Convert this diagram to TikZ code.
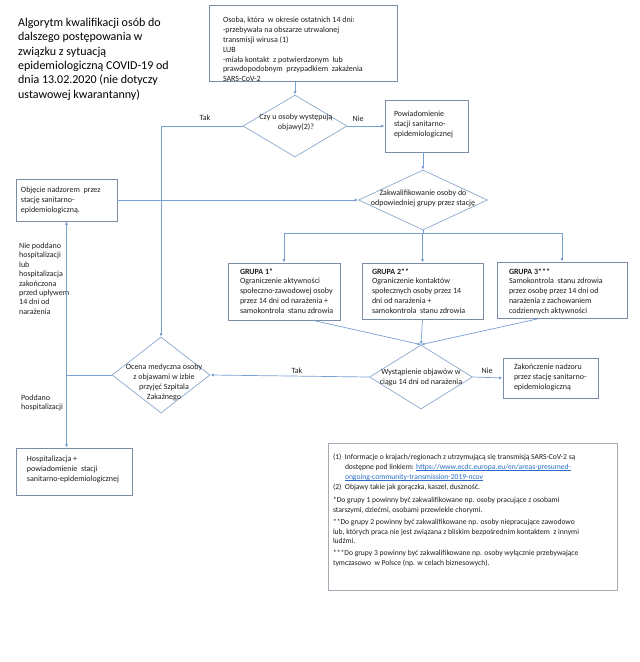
\documentclass[tikz,border=0pt]{standalone}
\usepackage{fontspec}
\setmainfont{Carlito}
\usetikzlibrary{shapes.geometric,arrows.meta,calc}
\setlength{\parindent}{0pt}
\definecolor{boxc}{RGB}{125,140,165}
\definecolor{linec}{RGB}{120,160,210}
\definecolor{diac}{RGB}{140,168,205}
\definecolor{notec}{RGB}{165,172,182}
\definecolor{txt}{RGB}{30,30,30}
\definecolor{linkc}{RGB}{40,110,200}
\newcommand\fsm{\fontsize{8}{9.9}\selectfont}
\newcommand\bxt[4]{\smash{\makebox[#1][l]{\hspace*{#2}\raisebox{#3}{\begin{tabular}{@{}l@{}}#4\end{tabular}}}}}
\newcommand\dmt[3]{\smash{\makebox[0pt]{\hspace*{#1}\raisebox{#2}{\begin{tabular}{@{}c@{}}#3\end{tabular}}}}}
\newcommand\lnk[1]{\textcolor{linkc}{\setbox0\hbox{#1}\rlap{\rule[-1.3pt]{\wd0}{0.45pt}}\box0}}
\begin{document}
\begin{tikzpicture}[x=1pt,y=-1pt, font=\fsm, text=txt,
  box/.style={draw=boxc, line width=0.7pt, fill=white, rectangle, inner sep=0pt},
  notebox/.style={draw=notec, line width=0.7pt, fill=white, rectangle, inner sep=0pt},
  dia/.style={draw=diac, line width=0.7pt, fill=white, diamond, inner sep=0pt},
  arr/.style={draw=linec, line width=0.7pt, -{Latex[length=3.5pt,width=3pt]}},
  ln/.style={draw=linec, line width=0.7pt},
  lbl/.style={inner sep=0pt, font=\fsm}]

\fill[white] (0,0) rectangle (640,662);
\useasboundingbox (0,0) rectangle (640,662);

% title
\node[anchor=west, inner sep=0pt, font=\fontsize{12}{14.4}\selectfont, text=black] (title) at (18,59.5)
 {\begin{tabular}{@{}l@{}}Algorytm kwalifikacji osób do\\ dalszego postępowania w\\ związku z sytuacją\\ epidemiologiczną COVID-19 od\\ dnia 13.02.2020 (nie dotyczy\\ ustawowej kwarantanny)\end{tabular}};

% boxes
\node[box, minimum width=188pt, minimum height=76pt] (osoba) at (303,43)
 {\bxt{188pt}{14pt}{-9.2pt}{Osoba, która\ \ w okresie ostatnich 14 dni:\\ -przebywała na obszarze utrwalonej\\ transmisji wirusa (1)\\ LUB\\ -miała kontakt\ \ z potwierdzonym\ \ lub\\ prawdopodobnym\ \ przypadkiem\ \ zakażenia\\ SARS-CoV-2}};

\node[box, minimum width=83pt, minimum height=52pt] (pow) at (426.5,126)
 {\bxt{83pt}{9pt}{-0.9pt}{Powiadomienie\\ stacji sanitarno-\\ epidemiologicznej}};

\node[box, minimum width=101pt, minimum height=42pt] (objecie) at (66.5,200)
 {\bxt{101pt}{5pt}{-2.9pt}{Objęcie nadzorem\ \ przez\\ stację sanitarno-\\ epidemiologiczną.}};

\node[box, minimum width=116pt, minimum height=47pt] (hosp) at (74,471.5)
 {\bxt{116pt}{11pt}{-0.4pt}{Hospitalizacja +\\ powiadomienie\ \ stacji\\ sanitarno-epidemiologicznej}};

\node[box, minimum width=112pt, minimum height=57pt] (g1) at (284,291.5)
 {\bxt{112pt}{12pt}{-2.4pt}{\textbf{GRUPA 1*}\\ Ograniczenie aktywności\\ społeczno-zawodowej osoby\\ przez 14 dni od narażenia +\\ samokontrola\ \ stanu zdrowia}};

\node[box, minimum width=121pt, minimum height=56pt] (g2) at (422.5,291)
 {\bxt{121pt}{10pt}{-2.9pt}{\textbf{GRUPA 2**}\\ Ograniczenie kontaktów\\ społecznych osoby przez 14\\ dni od narażenia +\\ samokontrola\ \ stanu zdrowia}};

\node[box, minimum width=130pt, minimum height=56pt] (g3) at (562,290)
 {\bxt{130pt}{12pt}{-3.9pt}{\textbf{GRUPA 3***}\\ Samokontrola\ \ stanu zdrowia\\ przez osobę przez 14 dni od\\ narażenia z zachowaniem\\ codziennych aktywności}};

\node[box, minimum width=95pt, minimum height=40pt] (zak) at (550.5,378)
 {\bxt{95pt}{11pt}{-1.9pt}{Zakończenie nadzoru\\ przez stację sanitarno-\\ epidemiologiczną}};

\node[notebox, minimum width=289pt, minimum height=147pt, font=\fontsize{7.6}{9.9}\selectfont] (notes) at (472.5,516.5)
 {\bxt{289pt}{5pt}{4pt}{\makebox[12pt][l]{(1)}Informacje o krajach/regionach z utrzymującą się transmisją SARS-CoV-2 są\\
 \hspace*{12pt}dostępne pod linkiem: \lnk{https://www.ecdc.europa.eu/en/areas-presumed-}\\
 \hspace*{12pt}\lnk{ongoing-community-transmission-2019-ncov}\\
 \makebox[12pt][l]{(2)}Objawy takie jak gorączka, kaszel, duszność.\\[3.6pt]
 {}*Do grupy 1 powinny być zakwalifikowane np. osoby pracujące z osobami\\
 starszymi, dziećmi, osobami przewlekle chorymi.\\[1.5pt]
 {}**Do grupy 2 powinny być zakwalifikowane np. osoby niepracujące zawodowo\\
 lub, których praca nie jest związana z bliskim bezpośrednim kontaktem\ \ z innymi\\
 ludźmi.\\[1.5pt]
 {}***Do grupy 3 powinny być zakwalifikowane np. osoby wyłącznie przebywające\\
 tymczasowo\ \ w Polsce (np. w celach biznesowych).}};

% diamonds
\node[dia, minimum width=104pt, minimum height=62pt] (d1) at (295,126)
 {\dmt{2pt}{1.1pt}{Czy u osoby występują\\ objawy(2)?}};
\node[dia, minimum width=129pt, minimum height=60pt] (d2) at (423,200)
 {\dmt{0pt}{-0.4pt}{Zakwalifikowanie osoby do\\ odpowiedniej grupy przez stację}};
\node[dia, minimum width=98pt, minimum height=76pt] (d3) at (161,375)
 {\dmt{6pt}{-9.5pt}{Ocena medyczna osoby\\ z objawami w izbie\\ przyjęć Szpitala\\ Zakaźnego}};
\node[dia, minimum width=103pt, minimum height=64pt] (d4) at (421,377)
 {\dmt{0pt}{-2.9pt}{Wystąpienie objawów w\\ ciągu 14 dni od narażenia}};

% free labels
\node[anchor=west, inner sep=0pt, font=\fontsize{8}{9.4}\selectfont] (lab1) at (19,279.5)
 {\begin{tabular}{@{}l@{}}Nie poddano\\ hospitalizacji\\ lub\\ hospitalizacja\\ zakończona\\ przed upływem\\ 14 dni od\\ narażenia\end{tabular}};
\node[anchor=west, inner sep=0pt] (lab2) at (21,403)
 {\begin{tabular}{@{}l@{}}Poddano\\ hospitalizacji\end{tabular}};

\node[lbl] (tak1) at (205,118) {Tak};
\node[lbl] (nie1) at (358,119) {Nie};
\node[lbl] (tak2) at (297,371) {Tak};
\node[lbl] (nie2) at (487,371) {Nie};

% connectors
\draw[arr] (osoba.south -| d1.north) -- (d1.north);
\draw[arr] (d1.east) -- (pow.west);
\draw[arr] (pow.south -| d2.north) -- (d2.north);
\draw[arr] (d1.west) -| (d3.north);
\draw[arr] (objecie.east) -- (d2.west);
\coordinate (bus) at ($(d2.south)+(0,3)$);
\draw[ln] (d2.south) -- (bus);
\draw[arr] (bus) -| (g1.north);
\draw[arr] (bus) -| (g2.north);
\draw[arr] (bus) -| (g3.north);
\draw[arr] ($(g1.south)+(29,0)$) -- (d4.north);
\draw[arr] (g2.south) -- (d4.north);
\draw[arr] ($(g3.south)+(-22,0)$) -- (d4.north);
\draw[arr] (d4.west) -- (d3.east);
\draw[arr] (d4.east) -- (zak.west);
\coordinate (jn) at (d3.west -| objecie.south);
\draw[ln] (d3.west) -- (jn);
\draw[arr] (jn) -- (objecie.south);
\draw[arr] (jn) -- (jn |- hosp.north);
\end{tikzpicture}
\end{document}
